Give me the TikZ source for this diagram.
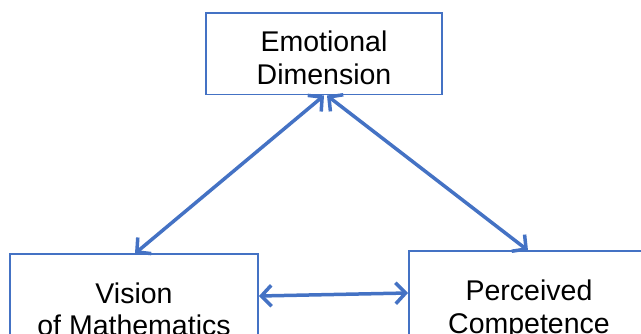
\documentclass[tikz,border=0pt]{standalone}
\usepackage{fontspec}
\setmainfont{Liberation Sans}
\usetikzlibrary{arrows.meta}
\definecolor{bl}{HTML}{4472C4}
\begin{document}
\begin{tikzpicture}[x=1pt,y=-1pt,
  box/.style={draw=bl,line width=1.3pt,rectangle,inner sep=0pt,fill=white},
  txt/.style={align=center,inner sep=0pt,font=\fontsize{28.5}{32.5}\selectfont},
  link/.style={draw=bl,line width=3.5pt,{Straight Barb[length=10pt,width=21pt]}-{Straight Barb[length=10pt,width=21pt]}}]
\useasboundingbox (0,0) rectangle (641,333);
\begin{scope}
\clip (0,0) rectangle (641,333);
\node[box,minimum width=236pt,minimum height=81.5pt] (emo) at (324,53.75) {};
\node[box,minimum width=248pt,minimum height=120pt] (lb) at (134,314) {};
\node[box,minimum width=251pt,minimum height=120pt] (rb) at (534.5,311) {};
\node[txt] (emot) at (324,58) {Emotional\\Dimension};
\node[txt] (lbt) at (134,309.5) {Vision\\of Mathematics};
\node[txt] (rbt) at (529,309.5) {Perceived\\Competence};
\end{scope}
\coordinate (eL) at (324,95.5);
\coordinate (eR) at (327,95.5);
\coordinate (lT) at (135,253.5);
\coordinate (rT) at (528,250.5);
\coordinate (lE) at (259,296);
\coordinate (rW) at (408,293);
\draw[link] (eL) -- (lT);
\draw[link] (eR) -- (rT);
\draw[link] (lE) -- (rW);
\end{tikzpicture}
\end{document}
